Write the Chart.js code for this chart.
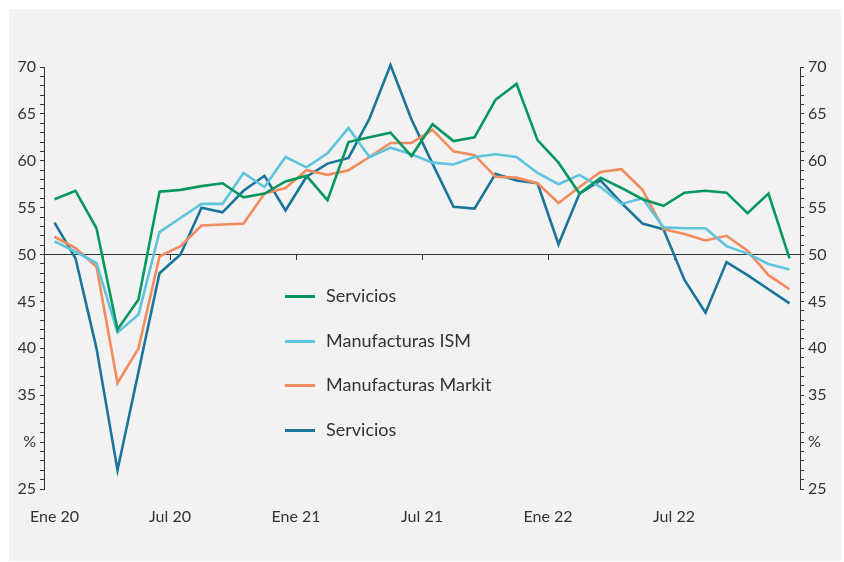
<!DOCTYPE html>
<html>
<head>
<meta charset="utf-8">
<script src="https://cdn.jsdelivr.net/npm/chart.js@4/dist/chart.umd.min.js"></script>
<style>
  body { margin: 0; background: #fff; }
  #panel { position: absolute; left: 9px; top: 9px; width: 832px; height: 552px; background: #f2f2f2; }
  #chart { position: absolute; left: 0; top: 0; }
  #legend { position: absolute; left: 285px; top: 284px; font-family: Lato, sans-serif; font-size: 18px; color: #333; }
  .leg-item { position: relative; height: 44.5px; }
  .leg-line { position: absolute; left: 0; top: 11px; width: 30px; height: 3px; }
  .leg-text { position: absolute; left: 41px; top: 0; white-space: nowrap; }
</style>
</head>
<body>
<div id="panel"></div>
<canvas id="chart" width="844" height="562"></canvas>
<div id="legend"></div>
<script>
// monthly values, Ene 20 .. Dic 22
let serviciosA = [55.9, 56.8, 52.8, 42.0, 45.2, 56.7, 56.9, 57.3, 57.6, 56.1, 56.5, 57.8,
                  58.4, 55.8, 62.0, 62.5, 63.0, 60.5, 63.9, 62.1, 62.5, 66.5, 68.2, 62.2,
                  59.8, 56.5, 58.2, 57.1, 55.9, 55.2, 56.6, 56.8, 56.6, 54.4, 56.5, 49.6];
let manufISM  = [51.4, 50.3, 49.1, 41.7, 43.6, 52.4, 53.9, 55.4, 55.4, 58.7, 57.2, 60.4,
                  59.3, 60.8, 63.5, 60.4, 61.4, 60.7, 59.8, 59.6, 60.4, 60.7, 60.4, 58.7,
                  57.5, 58.5, 57.2, 55.4, 56.0, 52.9, 52.8, 52.8, 50.9, 50.1, 49.0, 48.4];
let manufMarkit = [51.9, 50.7, 48.7, 36.3, 40.0, 49.8, 50.9, 53.1, 53.2, 53.3, 56.5, 57.1,
                  59.0, 58.5, 59.0, 60.4, 61.9, 61.9, 63.3, 61.0, 60.6, 58.3, 58.2, 57.6,
                  55.5, 57.2, 58.8, 59.1, 56.9, 52.7, 52.2, 51.5, 52.0, 50.4, 47.8, 46.3];
let serviciosB = [53.4, 49.6, 40.0, 27.0, 37.5, 48.0, 50.0, 55.0, 54.5, 56.8, 58.4, 54.7,
                  58.3, 59.7, 60.3, 64.5, 70.2, 64.4, 59.7, 55.1, 54.9, 58.6, 57.9, 57.6,
                  51.1, 56.5, 57.9, 55.5, 53.3, 52.7, 47.3, 43.8, 49.2, 47.8, 46.3, 44.8];

let seriesNames = ['Servicios', 'Manufacturas ISM', 'Manufacturas Markit', 'Servicios'];
let seriesColors = ['#06975f', '#5ec4dc', '#f28b5e', '#1b7499'];
let xTickLabels = ['Ene 20', 'Jul 20', 'Ene 21', 'Jul 21', 'Ene 22', 'Jul 22'];

let textColor = '#333';
let fontSpec = {family: 'Lato, sans-serif', size: 16};

function topoints(values) {
    return values.map(function(v, i) { return {x: i, y: v}; });
}

let allseries = [serviciosA, manufISM, manufMarkit, serviciosB];
let datasets = [];
for (let i = 0; i < allseries.length; i++) {
    datasets.push({
        label: seriesNames[i],
        data: topoints(allseries[i]),
        borderColor: seriesColors[i],
        backgroundColor: seriesColors[i],
        borderWidth: 2.6,
        pointRadius: 0,
        tension: 0,
        clip: 6,
        xAxisID: 'x',
        yAxisID: 'y',
    });
}

// y axis shared options: minor tick every unit, label every 5, '%' in place of 30
function yaxis(position) {
    return {
        position: position,
        min: 25,
        max: 70,
        border: {display: true, color: textColor, width: 1},
        grid: {drawOnChartArea: false, drawTicks: true, tickLength: 4, tickColor: textColor},
        ticks: {
            stepSize: 1,
            maxTicksLimit: 100,
            autoSkip: false,
            padding: 4,
            color: textColor,
            font: fontSpec,
            callback: function(v) {
                if (v === 30) return '%';
                return v % 5 === 0 ? String(v) : '';
            },
        },
        afterFit: function(scale) { scale.width = 44; },
    };
}

let chart = new Chart(document.getElementById('chart'), {
    type: 'line',
    data: {datasets: datasets},
    options: {
        responsive: false,
        animation: false,
        devicePixelRatio: 1,
        layout: {padding: {top: 67, left: 0, right: 0, bottom: 0}},
        plugins: {legend: {display: false}, tooltip: {enabled: false}},
        scales: {
            // bottom labels, no line
            x: {
                type: 'linear',
                position: 'bottom',
                min: -0.5,
                max: 35.5,
                border: {display: false},
                grid: {display: false, drawTicks: false},
                ticks: {
                    autoSkip: false,
                    maxRotation: 0,
                    padding: 18,
                    color: textColor,
                    font: fontSpec,
                    callback: function(v, i) { return xTickLabels[i]; },
                },
                // labels sit on half-year boundaries, first one nudged inside
                afterBuildTicks: function(scale) {
                    scale.ticks = xTickLabels.map(function(t, i) {
                        return {value: i === 0 ? 0 : i * 6 - 0.5};
                    });
                },
                afterFit: function(scale) { scale.height = 73; },
            },
            // the 50 line with its tick marks
            x2: {
                type: 'linear',
                position: {y: 50},
                min: -0.5,
                max: 35.5,
                border: {display: true, color: textColor, width: 1},
                grid: {drawOnChartArea: false, drawTicks: true, tickLength: 5, tickColor: textColor},
                ticks: {display: false},
                afterBuildTicks: function(scale) {
                    scale.ticks = xTickLabels.slice(1).map(function(t, i) {
                        return {value: (i + 1) * 6 - 0.5};
                    });
                },
            },
            y: yaxis('left'),
            y2: yaxis('right'),
        },
    },
});

// legend drawn inside the plot
let legend = document.getElementById('legend');
chart.data.datasets.forEach(function(ds) {
    let item = document.createElement('div');
    item.className = 'leg-item';
    let line = document.createElement('div');
    line.className = 'leg-line';
    line.style.background = ds.borderColor;
    let text = document.createElement('div');
    text.className = 'leg-text';
    text.textContent = ds.label;
    item.appendChild(line);
    item.appendChild(text);
    legend.appendChild(item);
});
</script>
</body>
</html>
